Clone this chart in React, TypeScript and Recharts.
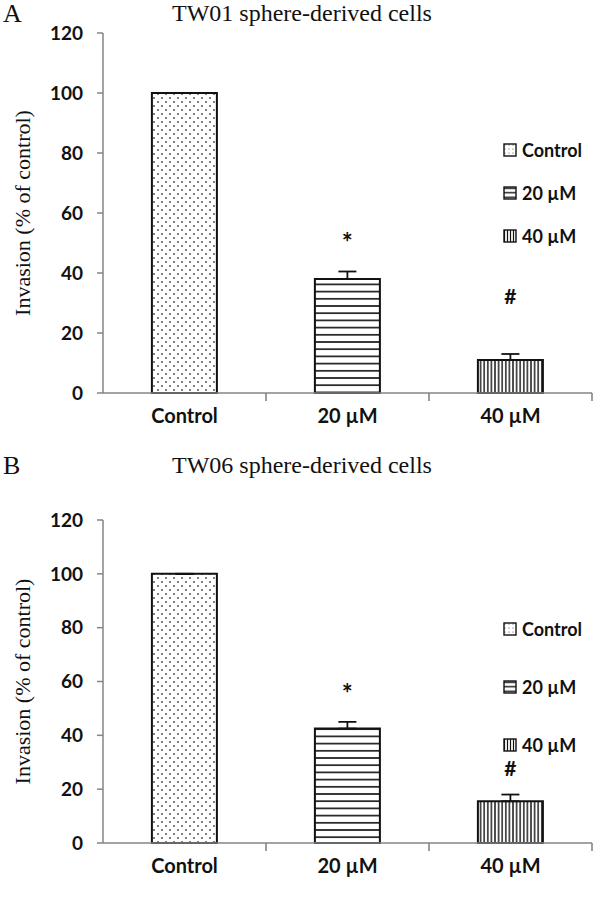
import React from 'react';
import { BarChart, Bar, Cell, XAxis, YAxis, ErrorBar, LabelList } from 'recharts';

// values
const groups = ['Control', '20 µM', '40 µM'];
const tw01Invasion = [100, 38, 11];
const tw01Error = [0, 2.5, 2];
const tw06Invasion = [100, 42.5, 15.5];
const tw06Error = [0, 2.5, 2.5];
const sigMarks = ['', '*', '#'];
const yTicks = [0, 20, 40, 60, 80, 100, 120];

const patternIds = ['dots', 'hlines', 'vlines'];
const legendPatterns = ['dotsSmall', 'hlinesSmall', 'vlinesSmall'];
const axisGray = '#858585';
const sans = 'Lato, "Open Sans", sans-serif';
const tickFont = { fontFamily: sans, fontWeight: 700, fontSize: 19, fill: '#111' };
const serif = '"Liberation Serif", "DejaVu Serif", serif';

function Patterns() {
  return (
    <svg width={0} height={0} style={{ position: 'absolute' }}>
      <defs>
        <pattern id="dots" width={8} height={8} patternUnits="userSpaceOnUse">
          <rect width={8} height={8} fill="#fff" />
          <circle cx={2} cy={2} r={0.9} fill="#444" />
          <circle cx={6} cy={6} r={0.9} fill="#444" />
        </pattern>
        <pattern id="hlines" width={8} height={7.2} patternUnits="userSpaceOnUse">
          <rect width={8} height={7.2} fill="#fff" />
          <line x1={0} y1={3.6} x2={8} y2={3.6} stroke="#111" strokeWidth={1.6} />
        </pattern>
        <pattern id="vlines" width={3.6} height={8} patternUnits="userSpaceOnUse">
          <rect width={3.6} height={8} fill="#fff" />
          <line x1={1.8} y1={0} x2={1.8} y2={8} stroke="#111" strokeWidth={1.4} />
        </pattern>
        <pattern id="hlinesSmall" width={4} height={4.5} patternUnits="userSpaceOnUse">
          <rect width={4} height={4.5} fill="#fff" />
          <line x1={0} y1={2.25} x2={4} y2={2.25} stroke="#111" strokeWidth={1.4} />
        </pattern>
        <pattern id="vlinesSmall" width={3} height={4} patternUnits="userSpaceOnUse">
          <rect width={3} height={4} fill="#fff" />
          <line x1={1.5} y1={0} x2={1.5} y2={4} stroke="#111" strokeWidth={1.2} />
        </pattern>
        <pattern id="dotsSmall" width={4} height={4} patternUnits="userSpaceOnUse">
          <rect width={4} height={4} fill="#fff" />
          <circle cx={2} cy={2} r={0.6} fill="#444" />
        </pattern>
      </defs>
    </svg>
  );
}

// category label plus a short tick on the right edge of its band
function CategoryTick(props: any) {
  const { x, y, payload } = props;
  const edge = x + (payload.offset || 0);
  return (
    <g>
      <line x1={edge} x2={edge} y1={y} y2={y + 8} stroke={axisGray} strokeWidth={1.6} />
      <text x={x} y={y} dy={30} textAnchor="middle" {...tickFont} fontSize={20}>
        {payload.value}
      </text>
    </g>
  );
}

function makeSigLabel(starLift: number, hashLift: number) {
  return function SigLabel(props: any) {
    const { x, y, width, value } = props;
    if (!value) return null;
    const star = value === '*';
    return (
      <text
        x={x + width / 2}
        y={y - (star ? starLift : hashLift)}
        textAnchor="middle"
        fontFamily={sans}
        fontWeight={700}
        fontSize={star ? 26 : 21}
        fill="#111"
      >
        {value}
      </text>
    );
  };
}

function PanelLegend({ top, gap }: { top: number; gap: number }) {
  return (
    <div style={{ position: 'absolute', left: 503, top, width: 100 }}>
      {groups.map((g, i) => (
        <div key={g} style={{ display: 'flex', alignItems: 'center', height: 22, marginBottom: gap - 22 }}>
          <svg width={14} height={14} style={{ marginRight: 5 }}>
            <rect x={1} y={1} width={12} height={12} fill={`url(#${legendPatterns[i]})`} stroke="#111" strokeWidth={1.4} />
          </svg>
          <span style={{ fontFamily: sans, fontWeight: 700, fontSize: 18, color: '#111' }}>{g}</span>
        </div>
      ))}
    </div>
  );
}

interface PanelProps {
  letter: string;
  title: string;
  values: number[];
  errors: number[];
  top: number;
  height: number;
  plotTop: number;
  plotBottom: number;
  legendTop: number;
  legendGap: number;
  starLift: number;
  hashLift: number;
}

function Panel(p: PanelProps) {
  const data = groups.map((g, i) => ({ name: g, value: p.values[i], err: [0, p.errors[i]], mark: sigMarks[i] }));
  const xAxisH = 40;
  const SigLabel = makeSigLabel(p.starLift, p.hashLift);
  return (
    <div style={{ position: 'absolute', left: 0, top: p.top, width: 600, height: p.height }}>
      <div style={{ position: 'absolute', left: 3, top: 0, fontFamily: serif, fontSize: 26, lineHeight: '28px', color: '#111' }}>
        {p.letter}
      </div>
      <div
        style={{
          position: 'absolute',
          left: 0,
          width: 604,
          top: 0,
          textAlign: 'center',
          fontFamily: serif,
          fontSize: 24,
          lineHeight: '26px',
          color: '#111',
        }}
      >
        {p.title}
      </div>
      <BarChart
        width={600}
        height={p.height}
        data={data}
        barCategoryGap="30%"
        margin={{ top: p.plotTop, right: 8, left: 3, bottom: p.height - p.plotBottom - xAxisH }}
      >
        <XAxis
          dataKey="name"
          height={xAxisH}
          axisLine={{ stroke: axisGray, strokeWidth: 1.5 }}
          tickLine={false}
          tickSize={0}
          tickMargin={0}
          tick={<CategoryTick />}
        />
        <YAxis
          width={100}
          domain={[0, 120]}
          ticks={yTicks}
          tick={tickFont}
          tickSize={6}
          tickMargin={14}
          axisLine={{ stroke: axisGray, strokeWidth: 1.5 }}
          tickLine={{ stroke: axisGray, strokeWidth: 1.5 }}
          label={{
            value: 'Invasion (% of control)',
            angle: -90,
            position: 'insideLeft',
            offset: 19,
            style: { textAnchor: 'middle', fontFamily: serif, fontSize: 22, fill: '#111' },
          }}
        />
        <Bar dataKey="value" stroke="#111" strokeWidth={2} isAnimationActive={false}>
          {data.map((d, i) => (
            <Cell key={d.name} fill={`url(#${patternIds[i]})`} />
          ))}
          <ErrorBar dataKey="err" width={9} stroke="#111" strokeWidth={1.8} direction="y" />
          <LabelList dataKey="mark" content={SigLabel} />
        </Bar>
      </BarChart>
      <PanelLegend top={p.legendTop} gap={p.legendGap} />
    </div>
  );
}

export default function App() {
  return (
    <div style={{ position: 'absolute', left: 0, top: 0, width: 600, height: 913, background: '#fff', overflow: 'hidden' }}>
      <Patterns />
      <Panel
        letter="A"
        title="TW01 sphere-derived cells"
        values={tw01Invasion}
        errors={tw01Error}
        top={0}
        height={450}
        plotTop={33}
        plotBottom={393}
        legendTop={139}
        legendGap={43}
        starLift={27}
        hashLift={56}
      />
      <Panel
        letter="B"
        title="TW06 sphere-derived cells"
        values={tw06Invasion}
        errors={tw06Error}
        top={452}
        height={461}
        plotTop={68}
        plotBottom={391}
        legendTop={166}
        legendGap={58}
        starLift={26}
        hashLift={25}
      />
    </div>
  );
}
